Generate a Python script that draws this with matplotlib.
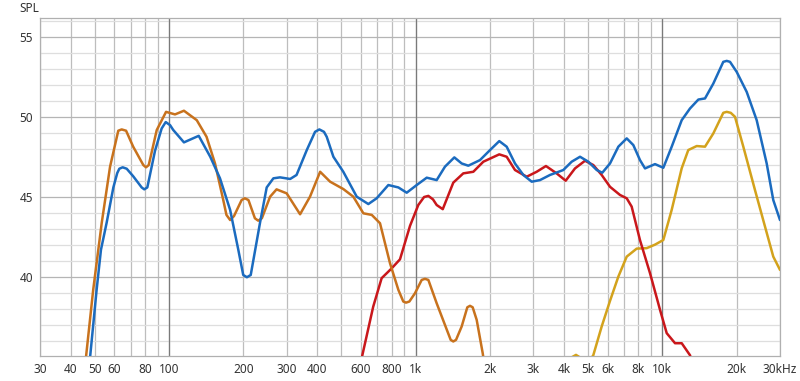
import matplotlib
matplotlib.use("Agg")
import matplotlib.pyplot as plt
from matplotlib.ticker import FixedLocator, NullFormatter

# frequency (Hz) / SPL (dB) pairs
blue_f = [46.5, 47.9, 50.9, 53, 55.9, 59.5, 61.7, 62.9, 64.9, 67.4, 71.6, 77.5, 79.4, 81.7,
          87.8, 93.4, 97, 101, 104, 115, 132, 147, 161, 177, 191, 200, 207, 214.5, 234, 249,
          265, 282, 310, 329, 362, 391, 407, 425, 436, 464, 509, 577, 643, 695, 775, 851,
          920, 1010, 1109, 1217, 1315, 1435, 1537, 1635, 1823, 2003, 2183, 2339, 2528, 2732,
          2955, 3193, 3505, 3969, 4291, 4639, 5013, 5421, 5711, 6137, 6634, 7173, 7630, 8120,
          8510, 9342, 10095, 10917, 11986, 12949, 14000, 14898, 16098, 17668, 18243, 18813,
          20026, 21984, 24132, 26494, 28175, 30000]
blue_v = [34.0, 35.0, 39.2, 41.7, 43.4, 45.6, 46.5, 46.77, 46.86, 46.77, 46.3, 45.6, 45.48,
          45.6, 47.9, 49.29, 49.69, 49.5, 49.2, 48.42, 48.83, 47.52, 46.17, 44.19, 41.7, 40.12,
          39.98, 40.12, 43.4, 45.6, 46.17, 46.23, 46.13, 46.38, 47.94, 49.08, 49.23, 49.08,
          48.77, 47.52, 46.58, 45.02, 44.56, 44.92, 45.75, 45.6, 45.27, 45.75, 46.21, 46.06,
          46.9, 47.48, 47.1, 46.96, 47.31, 47.94, 48.5, 48.15, 47.1, 46.38, 45.96, 46.06,
          46.38, 46.69, 47.21, 47.52, 47.21, 46.69, 46.52, 47.1, 48.15, 48.67, 48.25, 47.31,
          46.79, 47.06, 46.83, 48.15, 49.81, 50.54, 51.1, 51.17, 52.1, 53.46, 53.52, 53.46,
          52.83, 51.58, 49.81, 47.1, 44.81, 43.56]

orange_f = [45.5, 46.1, 49.3, 53.4, 57.7, 62.3, 64.3, 67, 71.6, 78.7, 80.7, 82.8, 89.2, 97.3,
            105.8, 115, 129.6, 142, 153.7, 166, 171, 177, 183.5, 197, 203, 210, 223, 230, 238,
            257, 273, 300, 340, 373, 410, 450, 509, 559, 614, 664, 717, 787, 851, 891, 914,
            943, 994, 1058, 1091, 1126, 1217, 1387, 1421, 1458, 1537, 1620, 1661, 1703, 1768,
            1870, 1900]
orange_v = [34.5, 35.0, 39.2, 43.4, 46.9, 49.15, 49.23, 49.15, 48.15, 47.0, 46.86, 47.0,
            49.19, 50.33, 50.17, 50.4, 49.81, 48.77, 47.1, 44.81, 43.88, 43.56, 43.81, 44.81,
            44.92, 44.81, 43.67, 43.52, 43.67, 45.02, 45.48, 45.23, 43.92, 45.02, 46.58,
            45.96, 45.5, 45.02, 43.98, 43.88, 43.36, 40.86, 39.19, 38.46, 38.39, 38.46, 38.98,
            39.81, 39.88, 39.81, 38.35, 36.06, 35.96, 36.06, 36.9, 38.1, 38.19, 38.1, 37.31,
            35.23, 34.5]

red_f = [600, 608, 673, 728, 800, 864, 949, 1025, 1082, 1126, 1176, 1217, 1288, 1421, 1560,
         1713, 1881, 2183, 2339, 2528, 2820, 3095, 3375, 3729, 4058, 4426, 4860, 5251, 5679,
         6137, 6735, 7173, 7512, 8120, 8917, 9789, 10419, 11262, 11986, 12949, 13300]
red_v = [34.5, 35.1, 38.14, 39.92, 40.54, 41.1, 43.2, 44.5, 45.0, 45.07, 44.85, 44.5, 44.24,
         45.9, 46.48, 46.58, 47.21, 47.67, 47.52, 46.69, 46.27, 46.58, 46.94, 46.48, 46.02,
         46.79, 47.27, 47.0, 46.38, 45.64, 45.13, 44.92, 44.4, 42.3, 40.23, 37.94, 36.48,
         35.85, 35.85, 35.1, 34.5]

gold_f = [4107, 4467, 4815, 5000, 5251, 5679, 6137, 6634, 7173, 7872, 8644, 9342, 10095,
          10917, 11986, 12744, 13787, 14898, 16098, 17668, 18243, 18940, 19708, 21301, 23749,
          26082, 28175, 30000]
gold_v = [34.8, 35.12, 34.8, 34.6, 35.1, 36.9, 38.5, 40.02, 41.27, 41.77, 41.8, 42.02, 42.31,
          44.2, 46.8, 47.94, 48.19, 48.15, 48.98, 50.27, 50.33, 50.27, 50.02, 48.15, 45.44,
          43.15, 41.27, 40.44]

x_grid = [30, 40, 50, 60, 70, 80, 90, 100, 200, 300, 400, 500, 600, 700, 800, 900,
          1000, 2000, 3000, 4000, 5000, 6000, 7000, 8000, 9000, 10000, 20000, 30000]
x_labels = ['30', '40', '50', '60', '', '80', '', '100', '200', '300', '400', '', '600', '',
            '800', '', '1k', '2k', '3k', '4k', '5k', '6k', '', '8k', '', '10k', '20k', '30kHz']
y_ticks = [40, 45, 50, 55]

plt.rcParams['font.family'] = ['Noto Sans', 'DejaVu Sans']

fig = plt.figure(figsize=(8, 3.81), dpi=100)
ax = fig.add_axes([0.05, 0.0656, 0.925, 0.887])
ax.set_xscale('log')
ax.set_xlim(30, 30000)
ax.set_ylim(35.05, 56.2)

ax.xaxis.set_major_locator(FixedLocator(x_grid))
ax.set_xticklabels(x_labels)
ax.xaxis.set_minor_formatter(NullFormatter())
ax.xaxis.set_minor_locator(FixedLocator([]))
ax.set_yticks(y_ticks)
ax.yaxis.set_minor_locator(FixedLocator(range(35, 57)))
ax.tick_params(which='both', length=0, labelsize=8.5, colors='#333333', pad=5)

ax.grid(which='major', axis='x', color='#bdbdbd', linewidth=0.9)
ax.grid(which='major', axis='y', color='#b5b5b5', linewidth=0.9)
ax.grid(which='minor', axis='y', color='#dedede', linewidth=0.9)
for f in (100, 1000, 10000):
    ax.axvline(f, color='#7a7a7a', linewidth=0.9, zorder=1.5)
for s in ax.spines.values():
    s.set_color('#b0b0b0')
    s.set_linewidth(0.9)
ax.set_axisbelow(True)

style = dict(linewidth=1.8, solid_joinstyle='round', solid_capstyle='round')
ax.plot(gold_f, gold_v, color='#d3a21c', zorder=3, **style)
ax.plot(red_f, red_v, color='#c9171b', zorder=3, **style)
ax.plot(orange_f, orange_v, color='#c8721d', zorder=3, **style)
ax.plot(blue_f, blue_v, color='#1b6bbf', zorder=4, **style)

fig.text(0.024, 0.979, 'SPL', fontsize=8.5, color='#333333', va='center', ha='left')

fig.savefig('out.png', dpi=100)
